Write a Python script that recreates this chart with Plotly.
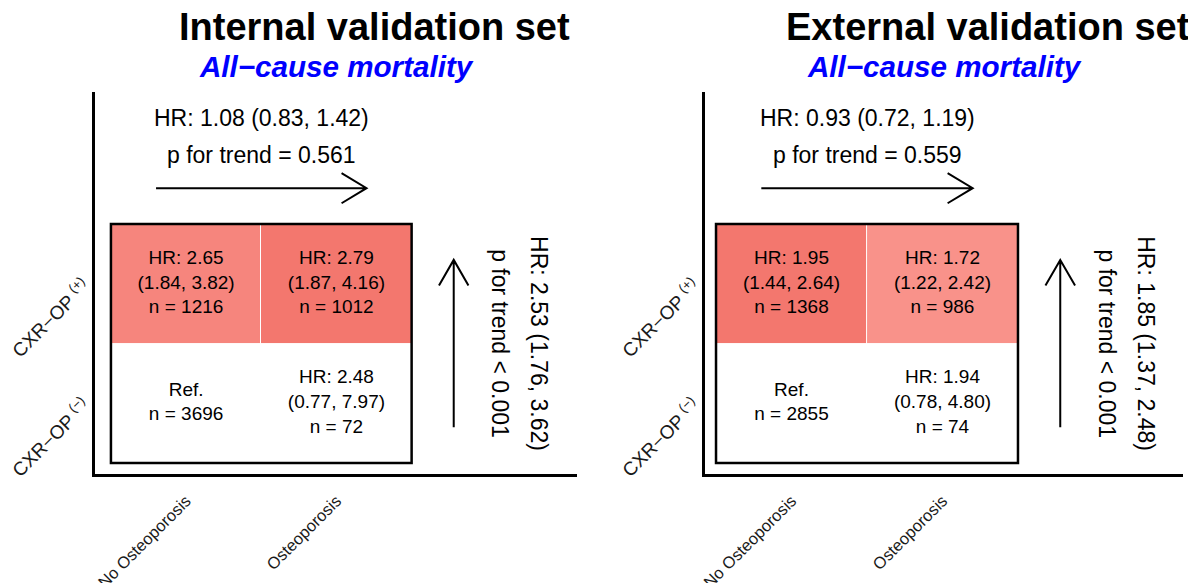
import plotly.graph_objects as go

# ---------------- data ----------------
col_labels = ["No Osteoporosis", "Osteoporosis"]
row_labels = ["CXR−OP <sup>(−)</sup>", "CXR−OP <sup>(+)</sup>"]  # bottom, top

panel_titles = ["Internal validation set", "External validation set"]
subtitle = "All−cause mortality"

# rows: [CXR-OP(-), CXR-OP(+)] ; cols: [No OP, OP]
int_hr = [[None, 2.48], [2.65, 2.79]]
int_lo = [[None, 0.77], [1.84, 1.87]]
int_hi = [[None, 7.97], [3.82, 4.16]]
int_n = [[3696, 72], [1216, 1012]]
int_sig = [[False, False], [True, True]]

ext_hr = [[None, 1.94], [1.95, 1.72]]
ext_lo = [[None, 0.78], [1.44, 1.22]]
ext_hi = [[None, 4.80], [2.64, 2.42]]
ext_n = [[2855, 74], [1368, 986]]
ext_sig = [[False, False], [True, True]]

# trend across osteoporosis (columns) and across CXR-OP (rows)
col_trend_hr = [(1.08, 0.83, 1.42), (0.93, 0.72, 1.19)]
col_trend_p = ["= 0.561", "= 0.559"]
row_trend_hr = [(2.53, 1.76, 3.62), (1.85, 1.37, 2.48)]
row_trend_p = ["< 0.001", "< 0.001"]

panels = [
    dict(hr=int_hr, lo=int_lo, hi=int_hi, n=int_n, sig=int_sig, zmin=2.45, zmax=2.80),
    dict(hr=ext_hr, lo=ext_lo, hi=ext_hi, n=ext_n, sig=ext_sig, zmin=1.65, zmax=1.96),
]

# ---------------- style ----------------
FONT = "Liberation Sans, Arial, Helvetica, sans-serif"
OFF = 8  # page body margin
FW, FH = 1196 - OFF, 583 - OFF


def px(x):
    return (x - OFF) / FW


def py(y):
    return 1 - (y - OFF) / FH


x_domains = [[px(95), px(577)], [px(705), px(1183)]]
y_domain = [py(474), py(92)]
x_ranges = [[0.394, 3.6], [0.427, 3.593]]
y_range = [0.408, 3.605]
title_x = [px(374), px(988)]
sub_x = [px(336), px(944)]
colorscale = [[0, "#FB9A93"], [1, "#F3766D"]]

fig = go.Figure()
shapes = []
annotations = []

for k, p in enumerate(panels):
    xa = "x" if k == 0 else "x2"
    ya = "y" if k == 0 else "y2"
    z = [[p["hr"][r][c] if p["sig"][r][c] else None for c in range(2)] for r in range(2)]
    fig.add_trace(go.Heatmap(
        x=[1, 2], y=[1, 2], z=z, colorscale=colorscale,
        zmin=p["zmin"], zmax=p["zmax"], showscale=False,
        xgap=1, ygap=0, hoverinfo="skip", xaxis=xa, yaxis=ya,
    ))
    # cell labels
    tx, ty, tt = [], [], []
    for r in range(2):
        for c in range(2):
            if p["hr"][r][c] is None:
                s = f"Ref.<br>n = {p['n'][r][c]}"
            else:
                s = (f"HR: {p['hr'][r][c]:.2f}<br>({p['lo'][r][c]:.2f}, {p['hi'][r][c]:.2f})"
                     f"<br>n = {p['n'][r][c]}")
            tx.append(c + 1)
            ty.append(r + 1)
            tt.append(s)
    fig.add_trace(go.Scatter(
        x=tx, y=ty, text=tt, mode="text", xaxis=xa, yaxis=ya,
        textfont=dict(family=FONT, size=19, color="black"),
        hoverinfo="skip", showlegend=False,
    ))

    # outer black border of grid
    shapes.append(dict(type="rect", xref=xa, yref=ya, x0=0.5, x1=2.5, y0=0.5, y1=2.5,
                       line=dict(color="black", width=2.5)))

    # horizontal arrow (across columns)
    hx0, hx1, hy = 0.8, 2.2, 2.8
    dxh, dyh = 0.166, 0.126
    shapes.append(dict(type="path", xref=xa, yref=ya,
                       path=f"M {hx0},{hy} L {hx1},{hy} M {hx1-dxh},{hy+dyh} L {hx1},{hy} L {hx1-dxh},{hy-dyh}",
                       line=dict(color="black", width=2)))
    # vertical arrow (across rows)
    vx, vy0, vy1 = 2.78, 0.8, 2.2
    dxv, dyv = 0.098, 0.215
    shapes.append(dict(type="path", xref=xa, yref=ya,
                       path=f"M {vx},{vy0} L {vx},{vy1} M {vx-dxv},{vy1-dyv} L {vx},{vy1} L {vx+dxv},{vy1-dyv}",
                       line=dict(color="black", width=2)))

    h, lo, hi = col_trend_hr[k]
    annotations.append(dict(xref=xa, yref=ya, x=1.5, y=3.39, showarrow=False,
                            text=f"HR: {h:.2f} ({lo:.2f}, {hi:.2f})",
                            font=dict(family=FONT, size=23, color="black")))
    annotations.append(dict(xref=xa, yref=ya, x=1.5, y=3.08, showarrow=False,
                            text=f"p for trend {col_trend_p[k]}",
                            font=dict(family=FONT, size=23, color="black")))
    h, lo, hi = row_trend_hr[k]
    annotations.append(dict(xref=xa, yref=ya, x=3.35, y=1.5, showarrow=False, textangle=90,
                            text=f"HR: {h:.2f} ({lo:.2f}, {hi:.2f})",
                            font=dict(family=FONT, size=23, color="black")))
    annotations.append(dict(xref=xa, yref=ya, x=3.09, y=1.5, showarrow=False, textangle=90,
                            text=f"p for trend {row_trend_p[k]}",
                            font=dict(family=FONT, size=23, color="black")))

    # titles
    annotations.append(dict(xref="paper", yref="paper", x=title_x[k], y=py(27),
                            xanchor="center", yanchor="middle", showarrow=False,
                            text=f"<b>{panel_titles[k]}</b>",
                            font=dict(family=FONT, size=38, color="black")))
    annotations.append(dict(xref="paper", yref="paper", x=sub_x[k], y=py(66),
                            xanchor="center", yanchor="middle", showarrow=False,
                            text=f"<b><i>{subtitle}</i></b>",
                            font=dict(family=FONT, size=29.6, color="#0000FF")))

axis_common = dict(showgrid=False, zeroline=False, showline=True, linecolor="black",
                   linewidth=2.5, ticks="", tickangle=-45, tickvals=[1, 2], fixedrange=True)
xfont = dict(family=FONT, size=16.5, color="#1a1a1a")
yfont = dict(family=FONT, size=19, color="#1a1a1a")

fig.update_layout(
    width=FW, height=FH, margin=dict(l=0, r=0, t=0, b=0, autoexpand=False),
    paper_bgcolor="white", plot_bgcolor="white", showlegend=False,
    xaxis=dict(domain=x_domains[0], range=x_ranges[0], ticktext=col_labels, anchor="y",
               tickfont=xfont, ticklabelstandoff=8, **axis_common),
    yaxis=dict(domain=y_domain, range=y_range, ticktext=row_labels, anchor="x",
               tickfont=yfont, ticklabelstandoff=4, **axis_common),
    xaxis2=dict(domain=x_domains[1], range=x_ranges[1], ticktext=col_labels, anchor="y2",
                tickfont=xfont, ticklabelstandoff=8, **axis_common),
    yaxis2=dict(domain=y_domain, range=y_range, ticktext=row_labels, anchor="x2",
                tickfont=yfont, ticklabelstandoff=4, **axis_common),
    shapes=shapes, annotations=annotations,
)

fig.write_html("out.html")
